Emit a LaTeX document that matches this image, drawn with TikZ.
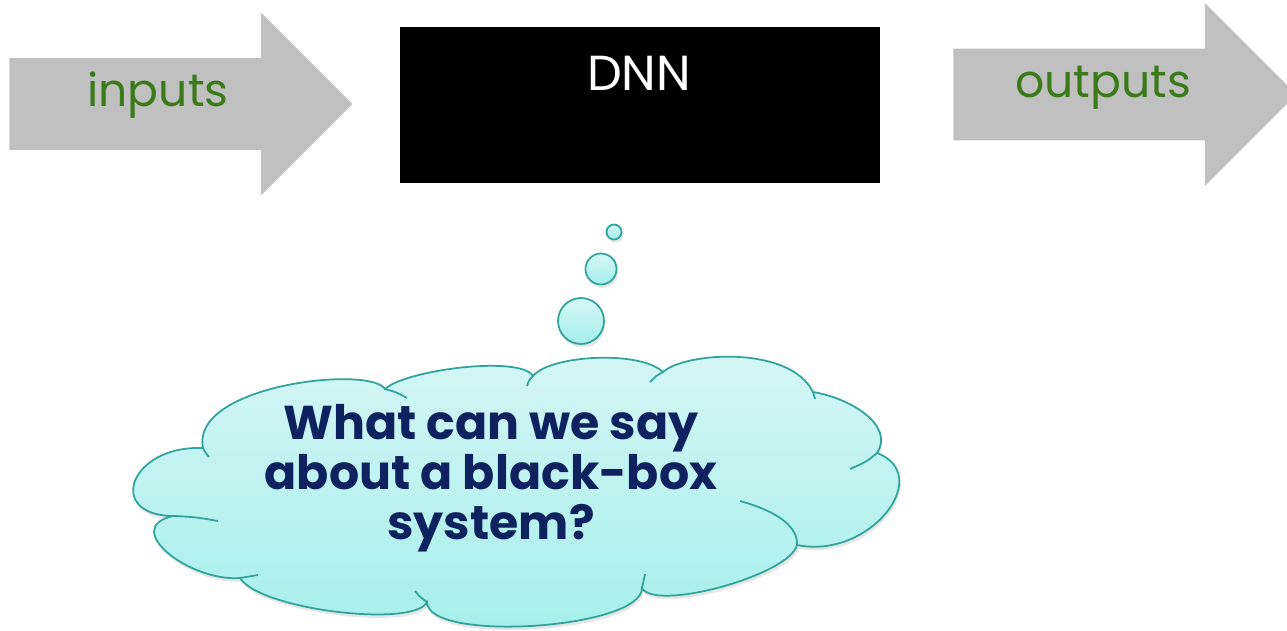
\documentclass[tikz,border=0pt]{standalone}
\usepackage{fontspec}
\setmainfont{Poppins}
\usetikzlibrary{shapes.arrows, shadows}
\definecolor{arrowgray}{HTML}{C0C0C0}
\definecolor{labelgreen}{HTML}{3A7A18}
\definecolor{asknavy}{HTML}{0F2260}
\definecolor{cloudedge}{HTML}{2EA49C}
\definecolor{cloudtop}{HTML}{D6F6F6}
\definecolor{cloudbot}{HTML}{A4EFEA}

\begin{document}
\begin{tikzpicture}[x=0.02cm, y=-0.02cm,
    every node/.style={inner sep=0pt},
    flow/.style={single arrow, fill=arrowgray, inner sep=0.91cm, minimum height=6.86cm, single arrow head extend=0.91cm, anchor=tail},
    flowlbl/.style={anchor=base, text=labelgreen, font=\fontsize{26}{30}\selectfont},
    softshadow/.style={drop shadow={shadow xshift=0.03cm, shadow yshift=-0.07cm, opacity=0.2, fill=black!50}},
    puff/.style={draw=cloudedge, line width=1pt, top color=cloudtop, bottom color=cloudbot, softshadow},
    seam/.style={draw=cloudedge, line width=1pt}
]
\useasboundingbox (0,0) rectangle (1287,630);
\clip (0,0) rectangle (1287,630);

% in and out
\node[flow] (inarrow) at (9,104) {};
\node[flow] (outarrow) at (953,94.5) {};
\node[flowlbl] (inlbl) at (158,106) {inputs};
\node[flowlbl] (outlbl) at (1103,97) {outputs};

% the black box
\node[fill=black, minimum width=9.6cm, minimum height=3.12cm] (dnn) at (640,105) {};
\node[anchor=base, text=white, font=\fontsize{28}{32}\selectfont] (dnnlbl) at (639,90) {DNN};

% thought bubbles
\node[puff, circle, minimum size=0.3cm] (bub1) at (614,232) {};
\node[puff, circle, minimum size=0.62cm] (bub2) at (601,269) {};
\node[puff, circle, minimum size=0.92cm] (bub3) at (581,321) {};

% cloud outline, lobe by lobe
\path[puff] (173,516)
    .. controls (105,515) and (130,445) .. (203,448)
    .. controls (190,385) and (370,365) .. (385,389)
    .. controls (405,370) and (520,355) .. (533,376)
    .. controls (550,355) and (640,350) .. (663,372)
    .. controls (685,352) and (790,345) .. (813,392)
    .. controls (850,398) and (895,425) .. (877,453)
    .. controls (935,475) and (870,560) .. (797,545)
    .. controls (790,575) and (655,612) .. (642,588)
    .. controls (642,629) and (427,643) .. (427,602)
    .. controls (415,628) and (260,610) .. (240,578)
    .. controls (190,582) and (120,528) .. cycle;

% seams where the lobes overlap
\path[seam] (203,448) .. controls (205,452) .. (209,457);
\path[seam] (385,389) .. controls (396,392) .. (407,398);
\path[seam] (533,376) .. controls (529,380) .. (527,386);
\path[seam] (663,372) .. controls (656,376) .. (650,382);
\path[seam] (813,392) .. controls (814,395) .. (815,399);
\path[seam] (877,453) .. controls (866,462) .. (850,469);
\path[seam] (797,545) .. controls (798,528) and (780,512) .. (740,501);
\path[seam] (642,588) .. controls (643,581) .. (645,574);
\path[seam] (427,602) .. controls (420,597) .. (415,591);
\path[seam] (240,578) .. controls (249,576) .. (258,575);
\path[seam] (173,516) .. controls (195,517) .. (218,521);

\node[align=center, text=asknavy, font=\bfseries\fontsize{27}{28.35}\selectfont] (ask) at (491,478) {What can we say\\about a black-box\\system?};

\end{tikzpicture}
\end{document}
